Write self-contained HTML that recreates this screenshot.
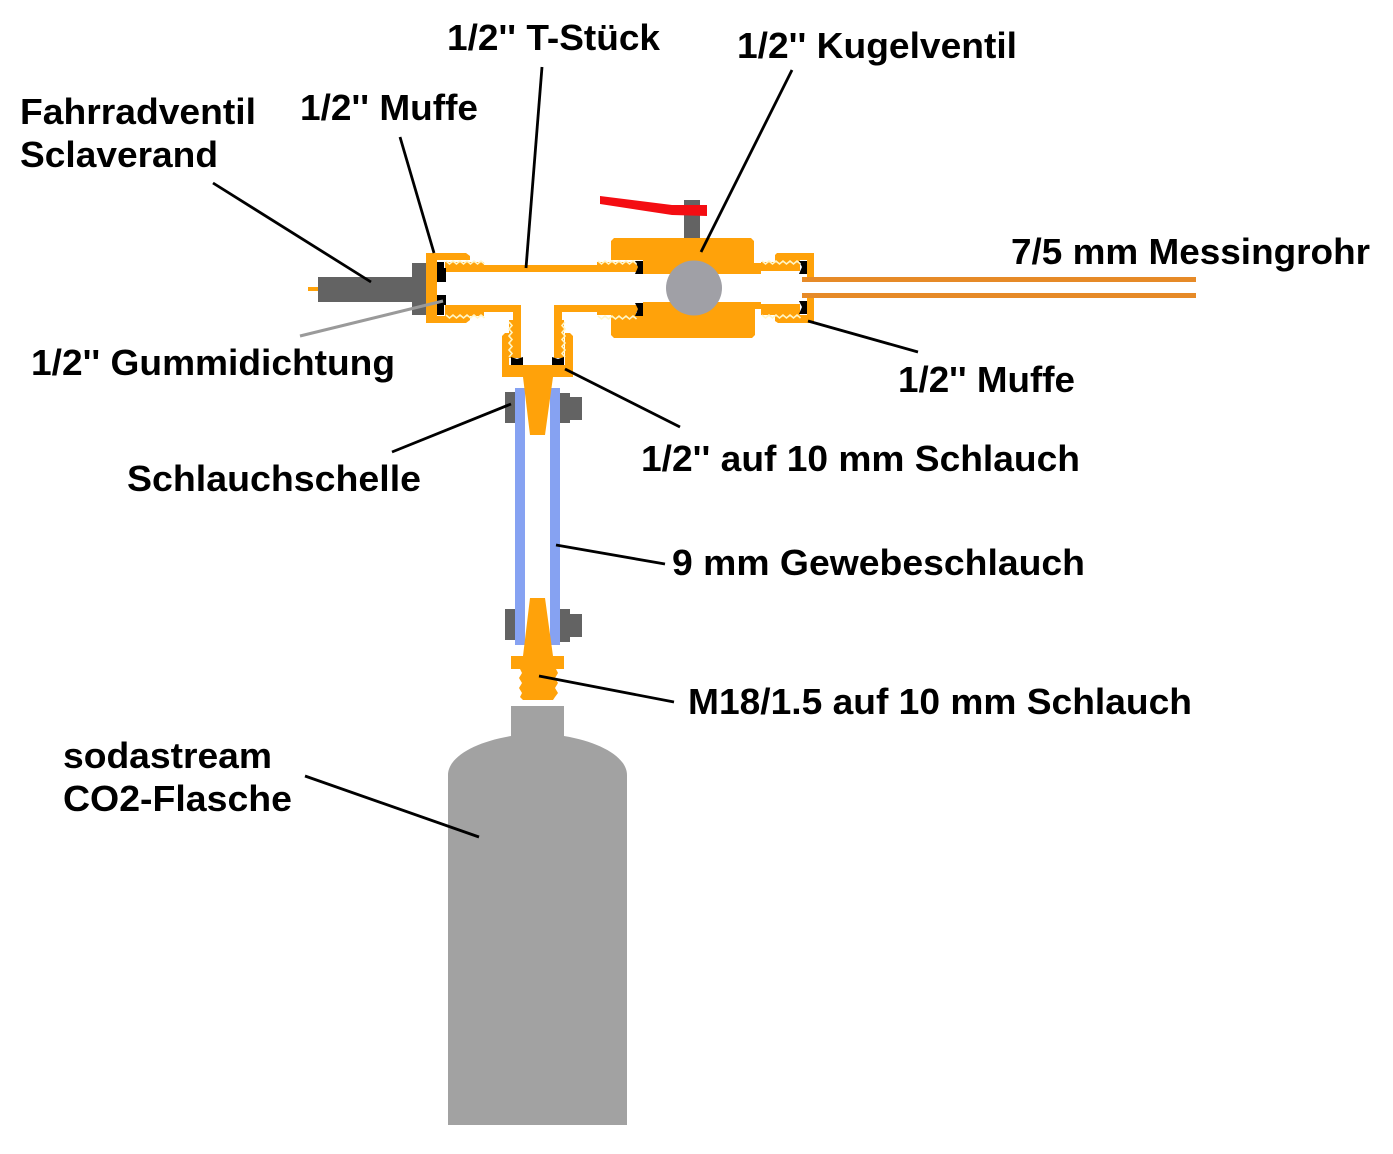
<!DOCTYPE html>
<html><head><meta charset="utf-8"><style>
html,body{margin:0;padding:0;background:#fff;width:1393px;height:1154px;overflow:hidden}
svg{display:block}
text{font-family:"Liberation Sans",sans-serif;font-weight:bold;font-size:36px;fill:#000}
.o{fill:#ffa20a}
.k{fill:#000}
.g{fill:#636363}
.b{fill:#86a2f2}
.z{fill:none;stroke:#fff6c8;stroke-width:1.6}
.l{stroke:#000;stroke-width:2.8;fill:none}
</style></head><body>
<svg width="1393" height="1154" viewBox="0 0 1393 1154" xmlns="http://www.w3.org/2000/svg">
<!-- Bottle -->
<path d="M511 706H564V736C600 742 627 757 627 775V1125H448V775C448 757 475 742 511 736Z" fill="#a2a2a2"/>
<!-- Fahrradventil -->
<rect x="308" y="287" width="10" height="4" class="o"/>
<rect x="318" y="277" width="95" height="25" class="g"/>
<rect x="412" y="263" width="16" height="52" class="g"/>
<!-- Hose and clamps -->
<rect x="505" y="392" width="11" height="31" class="g"/>
<rect x="559" y="393" width="11" height="30" class="g"/>
<rect x="569" y="397" width="13" height="23" class="g"/>
<rect x="505" y="609" width="11" height="31" class="g"/>
<rect x="559" y="609" width="11" height="33" class="g"/>
<rect x="569" y="614" width="13" height="23" class="g"/>
<rect x="515" y="388" width="10" height="257" class="b"/>
<rect x="550" y="388" width="10" height="257" class="b"/>
<!-- Lower nipple -->
<path class="o" d="M530 598H545L553 656H564V669H556L558 673L555 678L558 683L555 688L558 693L555 697L553 700H523L520 697L522 693L519 688L522 683L519 678L522 673L520 669H511V656H523Z"/>
<!-- Left muffe -->
<path class="o" d="M426 253H466L470 256V260H437V316H470V320L466 323H426Z"/>
<!-- T piece -->
<path class="o" d="M445 262H484V265H640V272H445Z"/>
<path class="o" d="M445 305H521V358H509V320H513V312H484V316H445Z"/>
<path class="o" d="M554 305H640V312H562V320H564V358H554Z"/>
<path class="o" d="M597 262H636V272H597ZM597 305H636V315H597Z"/>
<!-- Lower adapter -->
<path class="o" d="M505 333H509V365H565V333H570L573 336V377H553L545 435H530L523 377H502V336Z"/>
<!-- Valve body -->
<path class="o" d="M614 238H751L754 241V263H761V274H643V260H611V241Z"/>
<path class="o" d="M643 302H761V309H755V335L752 338H614L611 335V315H643Z"/>
<ellipse cx="694" cy="288" rx="28" ry="27.5" fill="#a0a0a6"/>
<rect x="684" y="200" width="16" height="38" class="g"/>
<path d="M600 196L672 205H707V216L672 215L600 204Z" fill="#f40d12"/>
<!-- Right muffe -->
<path class="o" d="M761 262H775V255L777 253H814V277H807V260H800V271H761Z"/>
<path class="o" d="M761 304H800V315H807V298H814V323H778L775 321V315H761Z"/>
<rect x="802" y="277" width="394" height="5" fill="#e68a28"/>
<rect x="802" y="293" width="394" height="5" fill="#e68a28"/>
<!-- Seals -->
<path class="k" d="M437 262H444V268H446V282H437ZM437 295H446V305H444V315H437Z"/>
<path class="k" d="M635 261H643V274H635L638 267ZM635 303H643V316H635L638 309Z"/>
<path class="k" d="M799 261H807V274H799L802 267ZM799 301H807V314H799L802 307Z"/>
<path class="k" d="M511 357L517 359L523 357V365H511ZM552 357L558 359L564 357V365H552Z"/>
<!-- Threads -->
<path class="z" d="M446 261l3.500 3 3.500-3 3.500 3 3.500-3 3.500 3 3.500-3 3.500 3 3.500-3 3.500 3 3.500-3 3.500 3"/>
<path class="z" d="M446 315l3.500 3 3.500-3 3.500 3 3.500-3 3.500 3 3.500-3 3.500 3 3.500-3 3.500 3 3.500-3 3.500 3"/>
<path class="z" d="M598 261l3.500 3 3.500-3 3.500 3 3.500-3 3.500 3 3.500-3 3.500 3 3.500-3 3.500 3 3.500-3 3.500 3"/>
<path class="z" d="M598 316l3.500 3 3.500-3 3.500 3 3.500-3 3.500 3 3.500-3 3.500 3 3.500-3 3.500 3 3.500-3 3.500 3"/>
<path class="z" d="M762 261l3.500 3 3.500-3 3.500 3 3.500-3 3.500 3 3.500-3 3.500 3 3.500-3 3.500 3 3.500-3 3.500 3"/>
<path class="z" d="M762 315l3.500 3 3.500-3 3.500 3 3.500-3 3.500 3 3.500-3 3.500 3 3.500-3 3.500 3 3.500-3 3.500 3"/>
<path class="z" d="M509 322l3 3.500-3 3.500 3 3.500-3 3.500 3 3.500-3 3.500 3 3.500-3 3.500 3 3.500-3 3.500"/>
<path class="z" d="M565 322l-3 3.500 3 3.500-3 3.500 3 3.500-3 3.500 3 3.500-3 3.500 3 3.500-3 3.500 3 3.500"/>
<!-- Leaders -->
<path class="l" d="M213 183L371 282"/>
<path class="l" d="M400 137L434 253"/>
<path class="l" d="M542 67L526 268"/>
<path class="l" d="M792 70L701 252"/>
<path d="M300 336L443 301" stroke="#9a9a9a" stroke-width="3" fill="none"/>
<path class="l" d="M808 321L918 352"/>
<path class="l" d="M565 369L680 427"/>
<path class="l" d="M511 404L392 452"/>
<path class="l" d="M556 545L665 564"/>
<path class="l" d="M539 676L674 702"/>
<path class="l" d="M305 776L479 837"/>
<!-- Labels -->
<text x="447" y="50" textLength="213" lengthAdjust="spacingAndGlyphs">1/2'' T-Stück</text>
<text x="737" y="58" textLength="280" lengthAdjust="spacingAndGlyphs">1/2'' Kugelventil</text>
<text x="20" y="124" textLength="236" lengthAdjust="spacingAndGlyphs">Fahrradventil</text>
<text x="20" y="167" textLength="198" lengthAdjust="spacingAndGlyphs">Sclaverand</text>
<text x="300" y="120" textLength="178" lengthAdjust="spacingAndGlyphs">1/2'' Muffe</text>
<text x="1011" y="264" textLength="359" lengthAdjust="spacingAndGlyphs">7/5 mm Messingrohr</text>
<text x="31" y="375" textLength="364" lengthAdjust="spacingAndGlyphs">1/2'' Gummidichtung</text>
<text x="898" y="392" textLength="177" lengthAdjust="spacingAndGlyphs">1/2'' Muffe</text>
<text x="127" y="491" textLength="294" lengthAdjust="spacingAndGlyphs">Schlauchschelle</text>
<text x="641" y="471" textLength="439" lengthAdjust="spacingAndGlyphs">1/2'' auf 10 mm Schlauch</text>
<text x="672" y="575" textLength="413" lengthAdjust="spacingAndGlyphs">9 mm Gewebeschlauch</text>
<text x="688" y="714" textLength="504" lengthAdjust="spacingAndGlyphs">M18/1.5 auf 10 mm Schlauch</text>
<text x="63" y="768" textLength="209" lengthAdjust="spacingAndGlyphs">sodastream</text>
<text x="63" y="811" textLength="229" lengthAdjust="spacingAndGlyphs">CO2-Flasche</text>
</svg>
</body></html>
